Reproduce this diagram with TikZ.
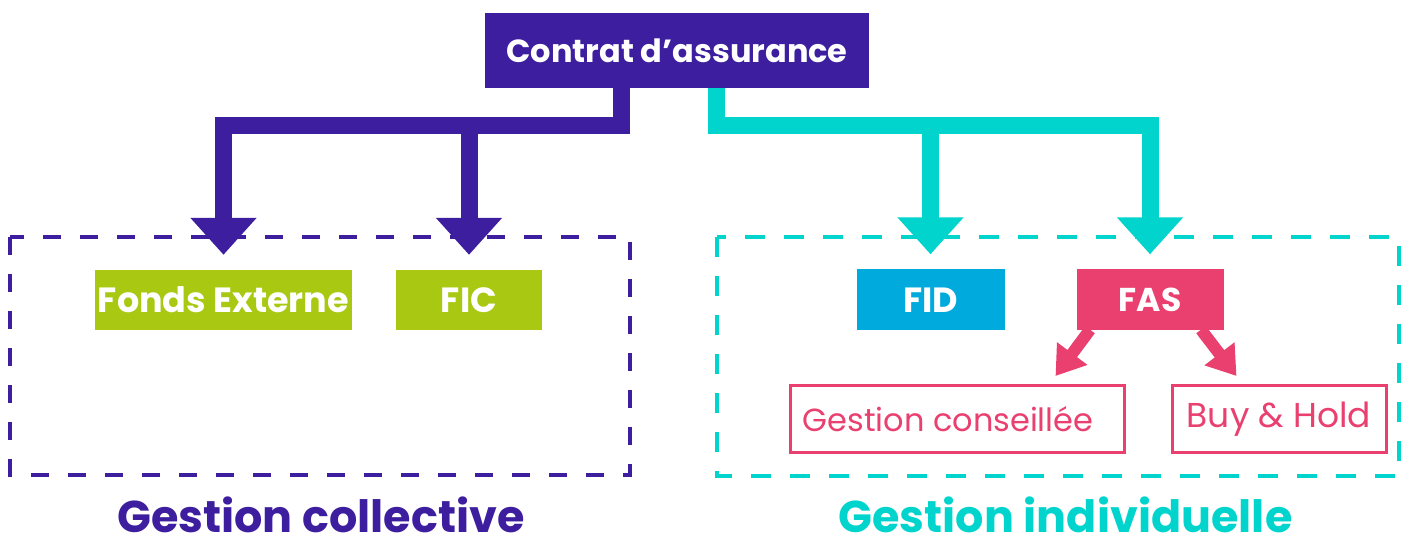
\documentclass[tikz,border=0pt]{standalone}
\usepackage{fontspec}
\setmainfont{Poppins}
\usetikzlibrary{arrows.meta}
\definecolor{cpurple}{HTML}{3D1E9E}
\definecolor{cteal}{HTML}{00D4CC}
\definecolor{cgreen}{HTML}{A9C812}
\definecolor{cblue}{HTML}{00AADC}
\definecolor{cpink}{HTML}{E94070}
\tikzset{
  fillbox/.style={inner sep=0pt, text=white, font=\fontsize{35}{35}\selectfont\bfseries},
  outbox/.style={inner sep=0pt, draw=cpink, line width=3pt, text=cpink},
  grouplabel/.style={inner sep=0pt, text depth=0pt, anchor=base, font=\fontsize{44.5}{44.5}\selectfont\bfseries},
  bigarrow/.style={line width=17pt, line join=miter, -{Triangle[width=64pt,length=37pt]}},
  pinkarrow/.style={line width=12pt, draw=cpink, -{Triangle[width=36pt,length=28pt]}},
  groupbox/.style={line width=4.5pt}
}
\begin{document}
\begin{tikzpicture}[x=1pt,y=-1pt]
\useasboundingbox (0,0) rectangle (1411,537);
% group boxes
\draw[groupbox, draw=cpurple, dash pattern=on 18pt off 19pt] (10,237) rectangle (630,475);
\draw[groupbox, draw=cteal, dash pattern=on 20pt off 19pt] (717,237) rectangle (1399,476);
% nodes
\node[fillbox, fill=cpurple, minimum width=384pt, minimum height=75pt, font=\fontsize{32}{32}\selectfont\bfseries] (contrat) at (677,50.5) {Contrat d’assurance};
\node[fillbox, fill=cgreen, minimum width=257pt, minimum height=60pt] (fonds) at (223.5,300) {Fonds Externe};
\node[fillbox, fill=cgreen, minimum width=146pt, minimum height=60pt] (fic) at (469,300) {FIC};
\node[fillbox, fill=cblue, minimum width=148pt, minimum height=61pt] (fid) at (930.5,300) {FID};
\node[fillbox, fill=cpink, minimum width=147pt, minimum height=61pt, font=\fontsize{33}{33}\selectfont\bfseries] (fas) at (1150,300) {FAS};
\node[outbox, minimum width=334pt, minimum height=67pt, font=\fontsize{32}{32}\selectfont] (gc) at (957,419) {Gestion conseillée\hspace*{18pt}};
\node[outbox, minimum width=214pt, minimum height=67pt, font=\fontsize{34.5}{34.5}\selectfont] (bh) at (1279,419) {Buy \& Hold};
\node[grouplabel, text=cpurple] (lcol) at (321,532) {Gestion collective};
\node[grouplabel, text=cteal] (lind) at (1065.5,532) {Gestion individuelle};
% connectors
\coordinate (pj) at (621,126);
\coordinate (tj) at (716,126);
\draw[bigarrow, draw=cpurple] (contrat.south -| pj) -- (pj) -| ([yshift=15pt]fonds.north);
\draw[bigarrow, draw=cpurple] (pj -| fic.north) -- ([yshift=15pt]fic.north);
\draw[bigarrow, draw=cteal] (contrat.south -| tj) -- (tj) -| ([yshift=15pt]fas.north);
\draw[bigarrow, draw=cteal] (tj -| fid.north) -- ([yshift=15pt]fid.north);
\draw[pinkarrow] ([xshift=-60pt,yshift=1pt]fas.south) -- ([xshift=-70pt,yshift=8pt]gc.north east);
\draw[pinkarrow] ([xshift=51pt,yshift=1pt]fas.south) -- ([xshift=66pt,yshift=8pt]bh.north west);
\end{tikzpicture}
\end{document}
